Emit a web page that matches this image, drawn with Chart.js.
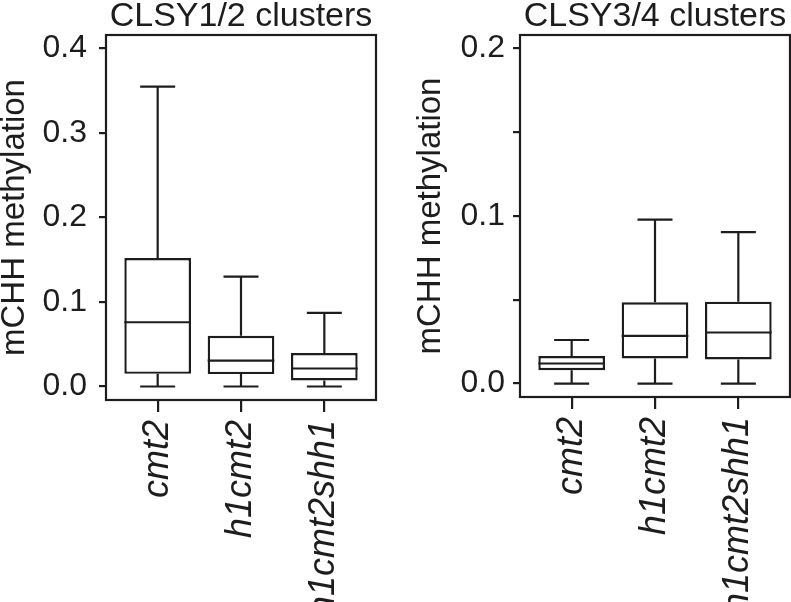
<!DOCTYPE html>
<html><head><meta charset="utf-8">
<script src="https://cdn.jsdelivr.net/npm/chart.js@4/dist/chart.umd.min.js"></script>
<style>
html,body{margin:0;padding:0;background:#fff;width:791px;height:602px;overflow:hidden}
canvas{position:absolute;top:0}
#c1{left:0}
#c2{left:400px}
</style></head><body>
<canvas id="c1" width="400" height="602"></canvas>
<canvas id="c2" width="391" height="602"></canvas>
<script>
// ---------- data ----------
const categories = ['cmt2', 'h1cmt2', 'h1cmt2shh1'];

const clsy12Min    = [0.000, 0.000, 0.000];
const clsy12Q1     = [0.015, 0.0147, 0.0071];
const clsy12Median = [0.076, 0.0305, 0.0213];
const clsy12Q3     = [0.152, 0.060, 0.0396];
const clsy12Max    = [0.355, 0.130, 0.087];

const clsy34Min    = [0.000, 0.000, 0.000];
const clsy34Q1     = [0.008, 0.015, 0.0144];
const clsy34Median = [0.012, 0.0285, 0.0305];
const clsy34Q3     = [0.0164, 0.0485, 0.0489];
const clsy34Max    = [0.026, 0.0978, 0.0904];

const clsy12Ticks = [0, 0.1, 0.2, 0.3, 0.4];
const clsy12TickLabels = ['0.0', '0.1', '0.2', '0.3', '0.4'];
const clsy34Ticks = [0, 0.05, 0.1, 0.15, 0.2];
const clsy34TickLabels = ['0.0', '', '0.1', '', '0.2'];

const titles = ['CLSY1/2 clusters', 'CLSY3/4 clusters'];
const yTitle = 'mCHH methylation';

// ---------- styling ----------
const FONT = "'Liberation Sans', Arial, Helvetica, sans-serif";
const INK = '#1e1c1d';

const boxPlugin = {
  id: 'boxWhiskers',
  beforeDatasetsDraw(chart, args, o) {
    const x = chart.scales.x, y = chart.scales.y, ctx = chart.ctx;
    ctx.save();
    ctx.strokeStyle = INK; ctx.lineWidth = o.lineWidth; ctx.lineCap = 'butt';
    o.min.forEach((mn, i) => {
      const cx = x.getPixelForValue(i + 1);
      const half = x.getPixelForValue(i + 1 + o.capWidth / 2) - cx;
      ctx.beginPath();
      ctx.moveTo(cx, y.getPixelForValue(o.max[i])); ctx.lineTo(cx, y.getPixelForValue(o.q3[i]));
      ctx.moveTo(cx, y.getPixelForValue(o.q1[i])); ctx.lineTo(cx, y.getPixelForValue(mn));
      ctx.moveTo(cx - half, y.getPixelForValue(o.max[i])); ctx.lineTo(cx + half, y.getPixelForValue(o.max[i]));
      ctx.moveTo(cx - half, y.getPixelForValue(mn)); ctx.lineTo(cx + half, y.getPixelForValue(mn));
      ctx.stroke();
    });
    ctx.restore();
  },
  afterDatasetsDraw(chart, args, o) {
    const x = chart.scales.x, y = chart.scales.y, ctx = chart.ctx;
    ctx.save();
    ctx.strokeStyle = INK; ctx.lineWidth = o.lineWidth;
    o.median.forEach((md, i) => {
      const cx = x.getPixelForValue(i + 1);
      const half = x.getPixelForValue(i + 1 + o.boxWidth / 2) - cx;
      const py = y.getPixelForValue(md);
      ctx.beginPath(); ctx.moveTo(cx - half, py); ctx.lineTo(cx + half, py); ctx.stroke();
    });
    ctx.restore();
  },
  afterDraw(chart, args, o) {
    const a = chart.chartArea, ctx = chart.ctx;
    ctx.save();
    ctx.strokeStyle = INK; ctx.lineWidth = o.frameWidth;
    ctx.strokeRect(a.left, a.top, a.right - a.left, a.bottom - a.top);
    ctx.restore();
  }
};

function makeChart(id, cfg) {
  return new Chart(document.getElementById(id), {
    type: 'bar',
    data: {
      datasets: [{
        data: categories.map((c, i) => ({ x: i + 1, y: [cfg.q1[i], cfg.q3[i]] })),
        backgroundColor: '#ffffff',
        borderColor: INK,
        borderWidth: 2.4,
        borderSkipped: false,
        barPercentage: 0.8,
        categoryPercentage: 1.0
      }]
    },
    options: {
      responsive: false,
      animation: false,
      layout: { padding: { left: 0, right: cfg.padRight, top: 0, bottom: 0 } },
      plugins: {
        legend: { display: false },
        tooltip: { enabled: false },
        title: {
          display: true, text: cfg.title, color: INK, fullSize: false,
          font: { family: FONT, size: 34, weight: 'normal', lineHeight: 1 },
          padding: { top: 0, bottom: 1 }
        },
        boxWhiskers: {
          min: cfg.min, q1: cfg.q1, median: cfg.median, q3: cfg.q3, max: cfg.max,
          capWidth: 0.42, boxWidth: 0.8, lineWidth: 2.2, frameWidth: 2.2
        }
      },
      scales: {
        x: {
          type: 'linear', min: 0.38, max: 3.62, offset: false,
          afterBuildTicks: s => { s.ticks = categories.map((c, i) => ({ value: i + 1 })); },
          afterFit: s => { s.height = cfg.xHeight; s.paddingLeft = 0; s.paddingRight = 0; },
          border: { display: false },
          grid: { offset: false, drawOnChartArea: false, drawTicks: true, tickLength: 12, color: INK, lineWidth: 2.2 },
          ticks: {
            autoSkip: false, minRotation: 90, maxRotation: 90, padding: 8, color: INK,
            font: { family: FONT, size: 36, style: 'italic' },
            callback: (v) => categories[Math.round(v) - 1]
          }
        },
        y: {
          type: 'linear', min: cfg.yMin, max: cfg.yMax,
          afterBuildTicks: s => { s.ticks = cfg.ticks.map(v => ({ value: v })); },
          afterFit: s => { s.width = cfg.yWidth; s.paddingTop = 0; s.paddingBottom = 0; },
          border: { display: false },
          grid: { drawOnChartArea: false, drawTicks: true, tickLength: 7, color: INK, lineWidth: 2.2 },
          ticks: {
            padding: cfg.tickPad, color: INK,
            font: { family: FONT, size: 32 },
            callback: (v, i) => cfg.tickLabels[i]
          },
          title: {
            display: true, text: yTitle, color: INK,
            font: { family: FONT, size: 33, lineHeight: 0.9 },
            padding: { top: cfg.titlePad, bottom: 0 }
          }
        }
      }
    },
    plugins: [boxPlugin]
  });
}

makeChart('c1', {
  title: titles[0], min: clsy12Min, q1: clsy12Q1, median: clsy12Median, q3: clsy12Q3, max: clsy12Max,
  ticks: clsy12Ticks, tickLabels: clsy12TickLabels, yMin: -0.016, yMax: 0.416,
  padRight: 24, xHeight: 202, yWidth: 106, tickPad: 12, titlePad: 0
});
makeChart('c2', {
  title: titles[1], min: clsy34Min, q1: clsy34Q1, median: clsy34Median, q3: clsy34Q3, max: clsy34Max,
  ticks: clsy34Ticks, tickLabels: clsy34TickLabels, yMin: -0.008, yMax: 0.208,
  padRight: 1, xHeight: 205, yWidth: 120, tickPad: 8, titlePad: 16
});
</script>
</body></html>
